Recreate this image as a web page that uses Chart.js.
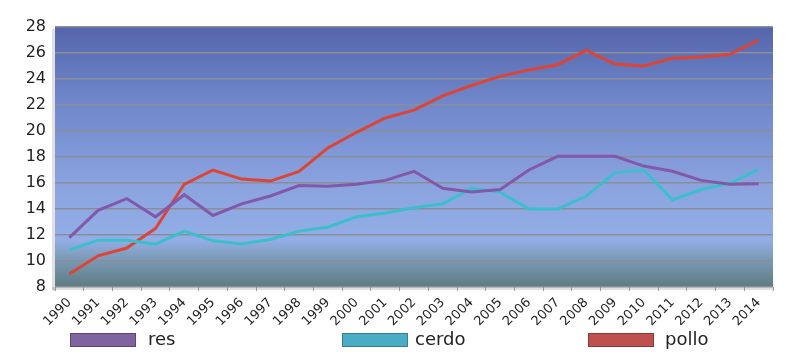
<!DOCTYPE html>
<html>
<head>
<meta charset="utf-8">
<script src="https://cdn.jsdelivr.net/npm/chart.js@4.4.0/dist/chart.umd.min.js"></script>
<style>
  html, body { margin: 0; padding: 0; background: #fff; }
  #wrap { position: relative; width: 800px; height: 359px; }
  .leg { position: absolute; top: 333px; font-family: "DejaVu Sans", sans-serif; font-size: 18px; color: #222; }
  .leg span.box { position: absolute; top: 0px; width: 64px; height: 12px; border: 1px solid; }
  .leg span.txt { position: absolute; top: -5px; white-space: nowrap; }
</style>
</head>
<body>
<div id="wrap">
  <canvas id="grafico" width="800" height="359"></canvas>
  <div class="leg" style="left:70px"><span class="box" style="background:#8064a2;border-color:#5c4776"></span><span class="txt" style="left:78px">res</span></div>
  <div class="leg" style="left:342px"><span class="box" style="background:#4bacc6;border-color:#357d91"></span><span class="txt" style="left:73px">cerdo</span></div>
  <div class="leg" style="left:588px"><span class="box" style="background:#c0504d;border-color:#8c3836"></span><span class="txt" style="left:77px">pollo</span></div>
</div>
<script>
// datos
const anios = ['1990','1991','1992','1993','1994','1995','1996','1997','1998','1999','2000','2001','2002',
  '2003','2004','2005','2006','2007','2008','2009','2010','2011','2012','2013','2014'];
const res = [11.8, 13.9, 14.8, 13.4, 15.1, 13.5, 14.4, 15.0, 15.8, 15.75, 15.9, 16.2, 16.9,
  15.6, 15.3, 15.5, 17.0, 18.05, 18.05, 18.05, 17.3, 16.9, 16.2, 15.9, 15.95];
const cerdo = [10.85, 11.6, 11.6, 11.3, 12.3, 11.55, 11.3, 11.65, 12.3, 12.6, 13.4, 13.7, 14.1,
  14.4, 15.6, 15.3, 14.0, 14.0, 15.0, 16.8, 17.0, 14.7, 15.5, 16.0, 17.05];
const pollo = [9.0, 10.4, 11.0, 12.5, 15.9, 17.0, 16.3, 16.15, 16.9, 18.7, 19.9, 21.0, 21.6,
  22.7, 23.5, 24.2, 24.7, 25.1, 26.2, 25.15, 25.0, 25.6, 25.7, 25.9, 27.0];
const ticksY = [8, 10, 12, 14, 16, 18, 20, 22, 24, 26, 28];

// fondo degradado del area de la grafica
const fondo = {
  id: 'fondo',
  beforeDraw(chart) {
    const { ctx, chartArea: a } = chart;
    ctx.save();
    // sombra izquierda y abajo
    ctx.fillStyle = 'rgba(0,0,0,0.12)';
    ctx.fillRect(a.left - 3, a.top + 2, 3, a.bottom - a.top + 2);
    ctx.fillRect(a.left - 3, a.bottom, a.right - a.left + 3, 3);
    const g = ctx.createLinearGradient(0, a.top, 0, a.bottom);
    g.addColorStop(0, '#5565ab');
    g.addColorStop(0.25, '#6c83c7');
    g.addColorStop(0.6, '#8aa3df');
    g.addColorStop(0.82, '#93aee6');
    g.addColorStop(0.88, '#7f9dbd');
    g.addColorStop(1, '#5d7c80');
    ctx.fillStyle = g;
    ctx.fillRect(a.left, a.top, a.right - a.left, a.bottom - a.top);
    ctx.restore();
  }
};

function serie(label, data, color) {
  return {
    label: label,
    data: data,
    borderColor: color,
    backgroundColor: color,
    borderWidth: 3,
    pointRadius: 0,
    tension: 0,
    fill: false
  };
}

new Chart(document.getElementById('grafico'), {
  type: 'line',
  data: {
    labels: anios,
    datasets: [
      serie('res', res, '#8259a8'),
      serie('cerdo', cerdo, '#3cbfcd'),
      serie('pollo', pollo, '#dc4536')
    ]
  },
  plugins: [fondo],
  options: {
    responsive: false,
    animation: false,
    layout: { padding: { top: 27, right: 27, bottom: 22, left: 0 } },
    plugins: {
      legend: { display: false },
      tooltip: { enabled: false }
    },
    scales: {
      x: {
        offset: true,
        grid: { display: true, drawOnChartArea: false, offset: true, tickLength: 4, color: '#999' },
        border: { display: false },
        ticks: {
          color: '#222',
          font: { family: 'DejaVu Sans', size: 13 },
          maxRotation: 45,
          minRotation: 45,
          autoSkip: false,
          padding: 4
        },
        afterFit(scale) { scale.height = 50; }
      },
      y: {
        min: 8,
        max: 28,
        afterBuildTicks(scale) { scale.ticks = ticksY.map(v => ({ value: v })); },
        grid: { color: '#8a8e98', lineWidth: 1.5, drawTicks: false },
        border: { display: false },
        ticks: {
          color: '#222',
          font: { family: 'DejaVu Sans', size: 16 },
          padding: 9
        },
        afterFit(scale) { scale.width = 55; }
      }
    }
  }
});
</script>
</body>
</html>
